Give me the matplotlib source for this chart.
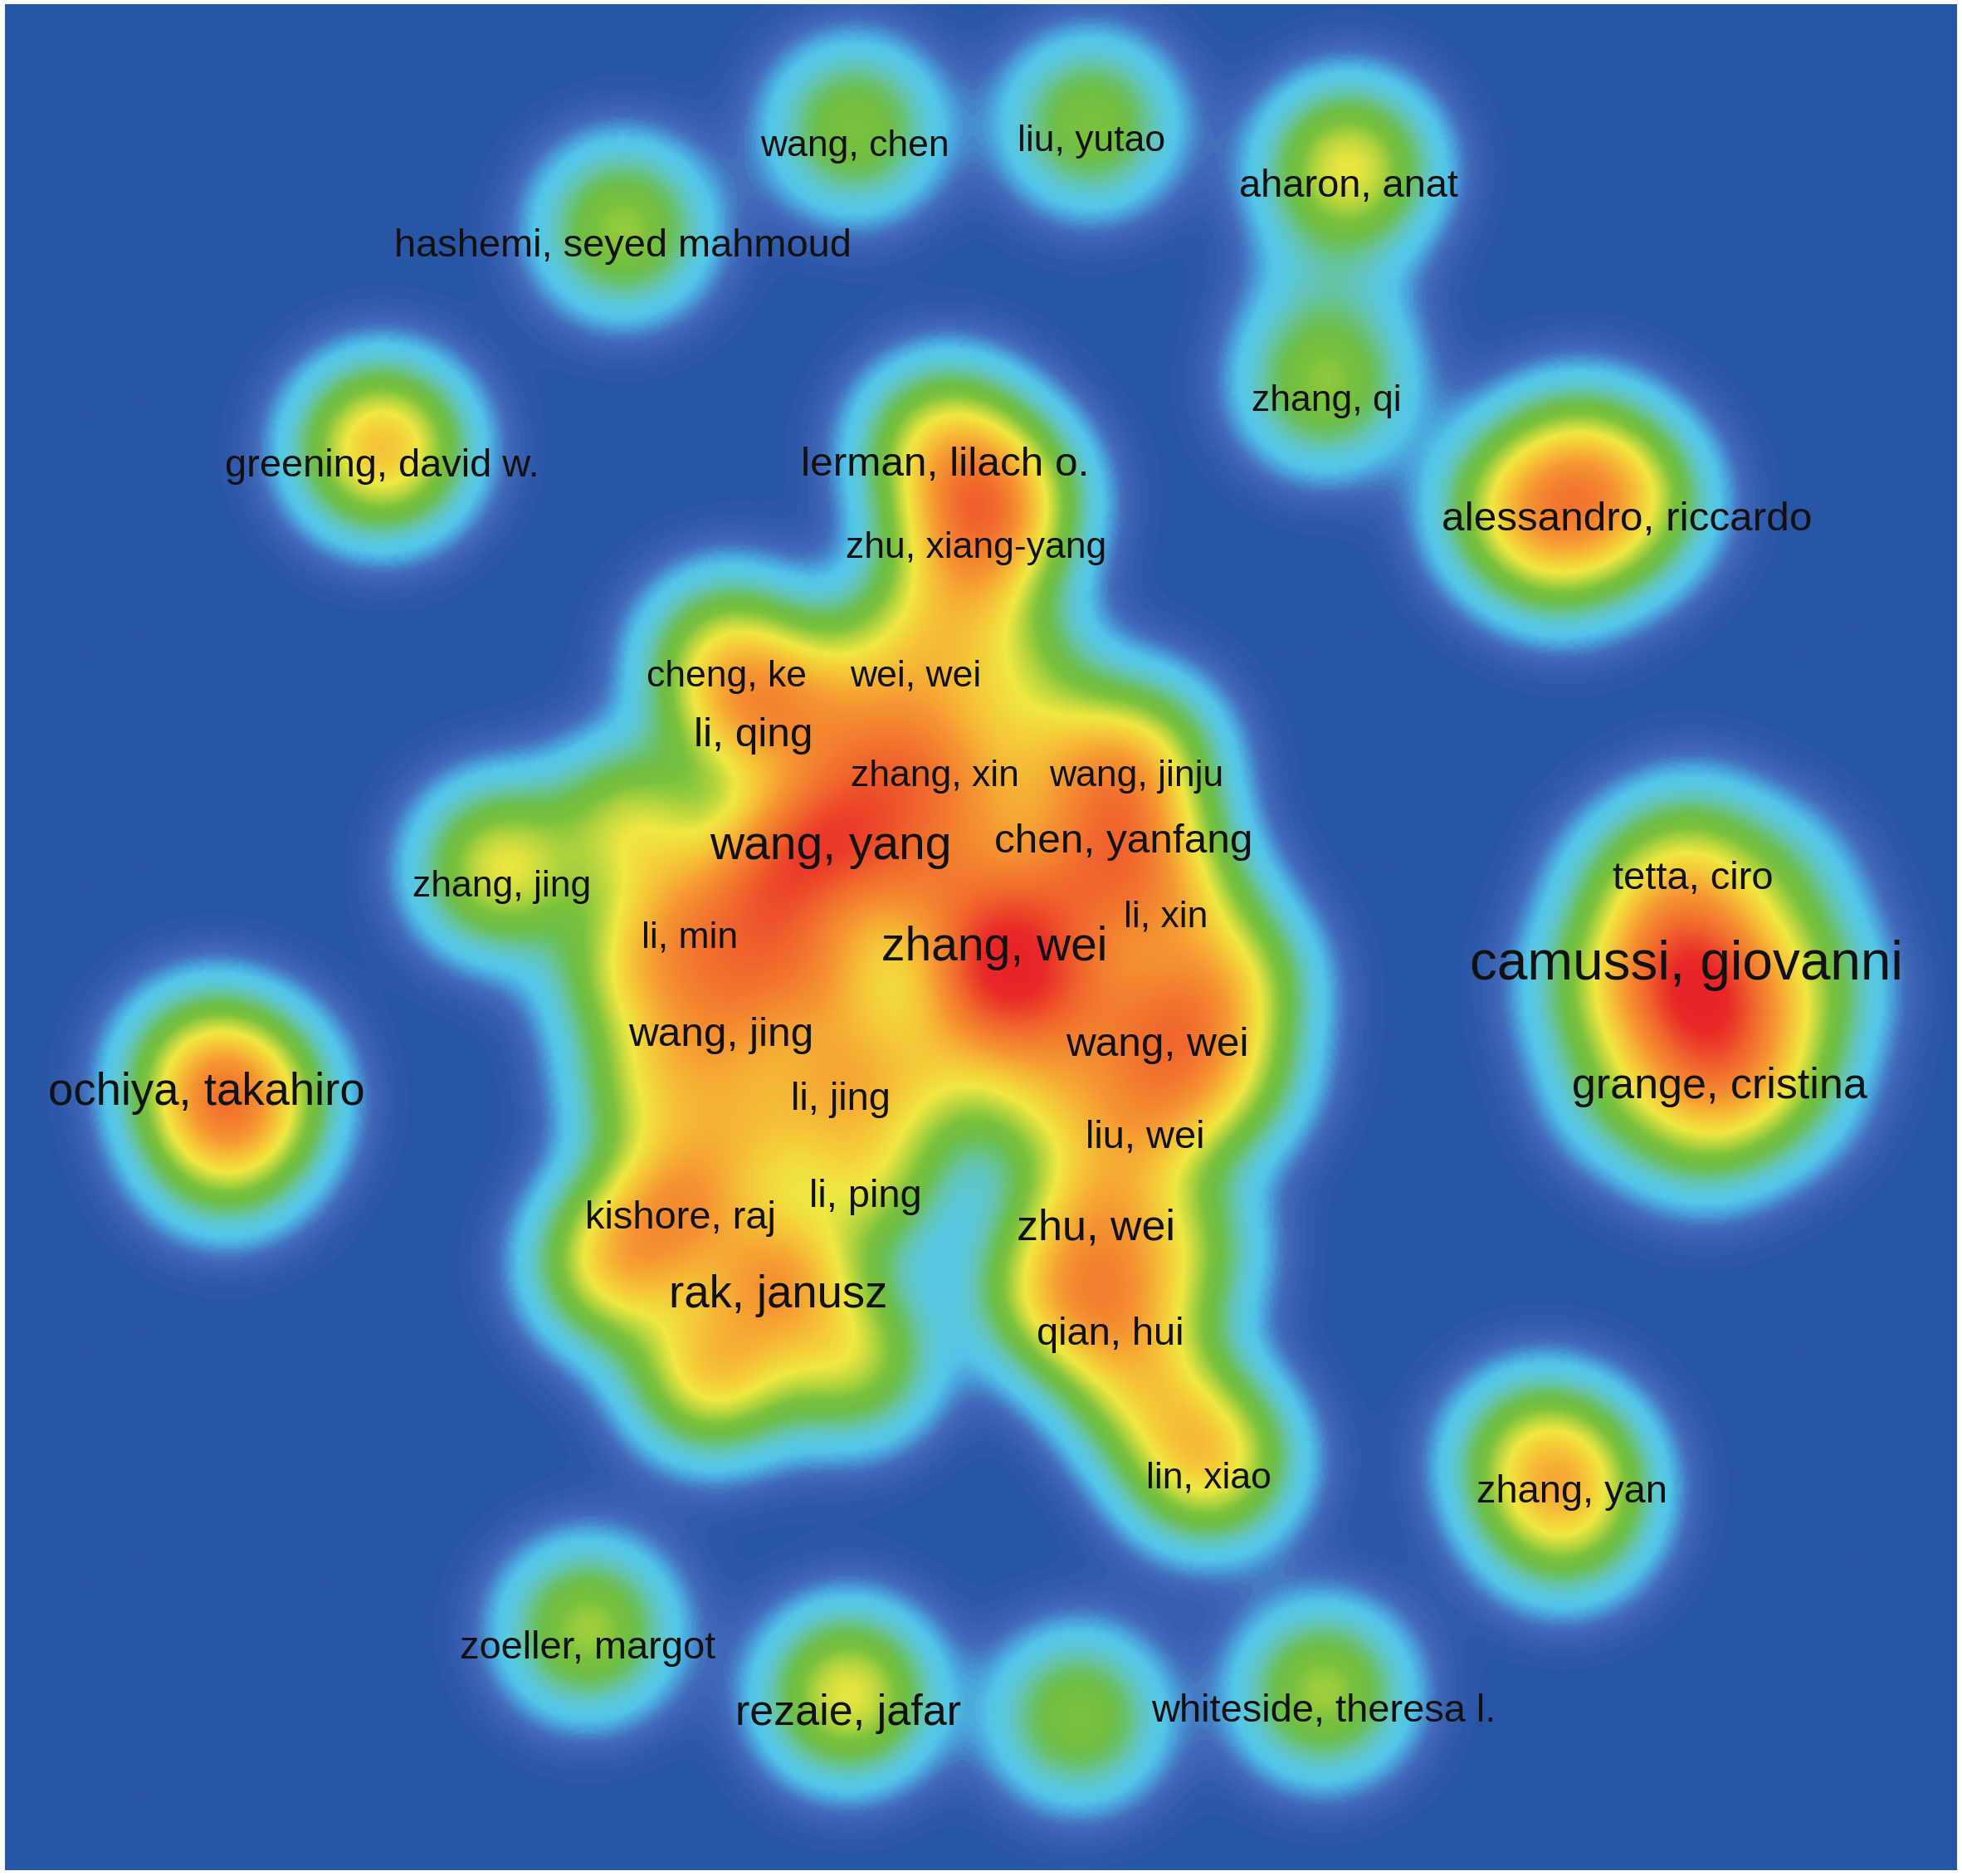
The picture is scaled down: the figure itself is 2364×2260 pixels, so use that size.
import numpy as np
import matplotlib
matplotlib.use('Agg')
import matplotlib.pyplot as plt
from matplotlib.colors import LinearSegmentedColormap

# author co-authorship density map (VOSviewer style)
authors = [
    "wang, chen", "liu, yutao", "aharon, anat", "zhang, qi",
    "hashemi, seyed mahmoud", "greening, david w.", "lerman, lilach o.",
    "alessandro, riccardo", "zhu, xiang-yang", "cheng, ke", "wei, wei",
    "li, qing", "zhang, xin", "wang, jinju", "wang, yang", "chen, yanfang",
    "zhang, jing", "tetta, ciro", "li, xin", "li, min", "zhang, wei",
    "camussi, giovanni", "wang, jing", "wang, wei", "ochiya, takahiro",
    "grange, cristina", "li, jing", "liu, wei", "li, ping", "kishore, raj",
    "zhu, wei", "rak, janusz", "qian, hui", "lin, xiao", "zhang, yan",
    "zoeller, margot", "rezaie, jafar", "whiteside, theresa l.",
]
author_x = [683, 872, 1078, 1060, 498, 305, 755, 1300, 780, 581, 732,
            602, 747, 908, 664, 898, 401, 1353, 932, 551, 795,
            1348, 576, 925, 165, 1374, 672, 915, 692, 544,
            876, 622, 887, 966, 1256, 470, 678, 1058]
author_y = [102, 98, 134, 306, 182, 358, 357, 401, 423, 526, 526,
            573, 606, 606, 662, 658, 694, 688, 718, 735, 743,
            757, 813, 821, 859, 854, 864, 895, 942, 959,
            967, 1021, 1052, 1167, 1178, 1303, 1355, 1353]
docs = [2, 2, 4, 2, 4, 4, 6, 6, 2, 2, 2,
        6, 2, 2, 12, 6, 2, 4, 2, 2, 12,
        19, 6, 6, 10, 8, 4, 4, 4, 4,
        8, 10, 4, 2, 4, 4, 8, 4]
weight = [0.25, 0.25, 0.37, 0.26, 0.28, 0.48, 0.35, 0.29, 0.32, 0.30, 0.28,
          0.36, 0.32, 0.30, 0.42, 0.36, 0.36, 0.20, 0.36, 0.35, 0.45,
          0.35, 0.36, 0.40, 0.34, 0.28, 0.34, 0.35, 0.28, 0.44,
          0.35, 0.48, 0.35, 0.42, 0.22, 0.29, 0.37, 0.29]

# authors whose labels are hidden (overlapping) but still add to the density
hidden_x = [1062, 1215, 1262, 1250, 800, 770,
            660, 810, 700, 845, 620, 720, 860, 980, 505, 505, 620, 790,
            850, 975, 525, 600, 840, 740, 495, 570, 680, 840, 920, 940,
            665, 780,
            1437, 1415, 1309, 1287, 1305, 1420, 1362, 1362,
            200, 180, 1225, 1250, 862]
hidden_y = [228, 405, 372, 435, 395, 470,
            560, 540, 615, 610, 695, 700, 710, 785, 660, 778, 760, 795,
            790, 860, 866, 900, 870, 860, 1010, 1095, 1085, 1030, 1110, 1000,
            785, 660,
            790, 715, 715, 790, 865, 865, 900, 800,
            875, 915, 1165, 1215, 1373]
hidden_weight = [0.06, 0.29, 0.27, 0.23, 0.32, 0.23,
                 0.26, 0.20, 0.28, 0.24, 0.46, 0.38, 0.35, 0.32, 0.30, 0.26, 0.30, 0.47,
                 0.38, 0.27, 0.27, 0.28, 0.28, 0.22, 0.42, 0.42, 0.30, 0.28, 0.28, 0.23,
                 0.28, 0.26,
                 0.21, 0.15, 0.15, 0.21, 0.17, 0.17, 0.15, 0.55,
                 0.28, 0.28, 0.22, 0.22, 0.25]

W, H = 2364, 2260
fig = plt.figure(figsize=(W / 100, H / 100), dpi=100)
fig.patch.set_facecolor('white')
ax = fig.add_axes([6 / W, 7 / H, 2352 / W, 2248 / H])

x0, x1, y0, y1 = 4, 1564, 3.3, 1495
gx = np.linspace(x0, x1, 1040)
gy = np.linspace(y0, y1, 1000)
GX, GY = np.meshgrid(gx, gy)
sigma = 42.0
dens = np.zeros_like(GX)
for xi, yi, wi in zip(author_x + hidden_x, author_y + hidden_y, weight + hidden_weight):
    dens += wi * np.exp(-((GX - xi) ** 2 + (GY - yi) ** 2) / (2 * sigma ** 2))

stops = [
    (0.000, (40, 86, 166)),
    (0.004, (44, 89, 169)),
    (0.012, (54, 95, 175)),
    (0.025, (66, 106, 186)),
    (0.045, (74, 160, 218)),
    (0.065, (82, 198, 232)),
    (0.090, (90, 200, 222)),
    (0.125, (100, 197, 180)),
    (0.165, (106, 193, 110)),
    (0.200, (110, 190, 70)),
    (0.250, (122, 194, 62)),
    (0.305, (175, 211, 62)),
    (0.380, (240, 232, 66)),
    (0.480, (245, 196, 56)),
    (0.600, (245, 150, 50)),
    (0.780, (240, 100, 45)),
    (0.950, (232, 40, 40)),
    (1.000, (232, 36, 40)),
]
cmap = LinearSegmentedColormap.from_list(
    'vos', [(p, tuple(c / 255 for c in rgb)) for p, rgb in stops])

ax.imshow(dens, cmap=cmap, vmin=0, vmax=1, extent=[x0, x1, y1, y0],
          origin='upper', interpolation='bilinear', aspect='auto')

# labels sit just below the item position, size grows with documents
for name, xi, yi, d in zip(authors, author_x, author_y, docs):
    em_px = 42 + 1.25 * d
    ax.text(xi, yi + 15, name, ha='center', va='center', color='#111111',
            fontsize=em_px * 0.72, family='Liberation Sans')

ax.set_xlim(x0, x1)
ax.set_ylim(y1, y0)
ax.set_axis_off()

plt.savefig('out.png', dpi=100, facecolor='white')
